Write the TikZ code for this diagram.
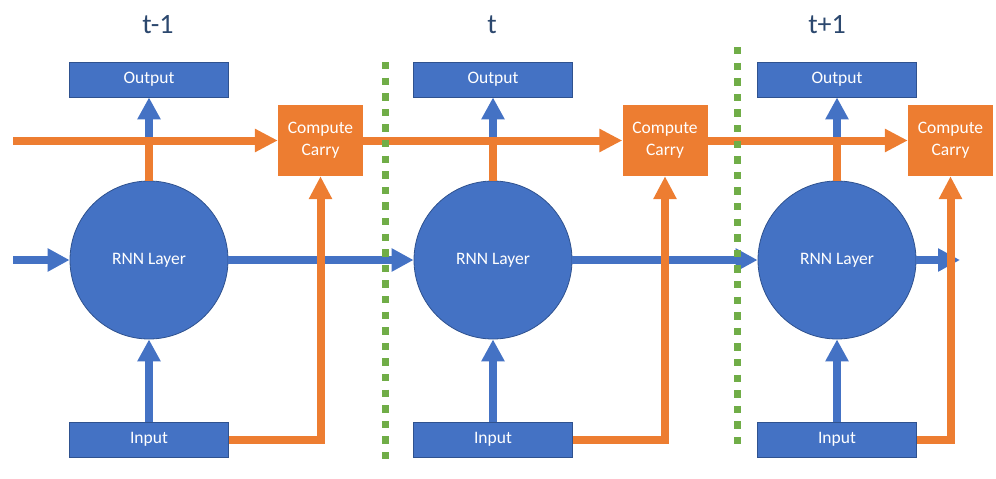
\documentclass[tikz,border=0pt]{standalone}
\usepackage{fontspec}
\setmainfont{Carlito}
\usetikzlibrary{arrows.meta}
\definecolor{cblue}{HTML}{4472C4}
\definecolor{cbluedark}{HTML}{2F528F}
\definecolor{corange}{HTML}{ED7D31}
\definecolor{cgreen}{HTML}{70AD47}
\definecolor{ctitle}{RGB}{44,72,110}
\tikzset{
  bluebox/.style={draw=cbluedark, line width=0.8pt, fill=cblue, text=white, minimum width=159pt, minimum height=35pt, inner sep=0pt, font=\fontsize{17.5}{20}\selectfont},
  rnnnode/.style={circle, draw=cbluedark, line width=0.8pt, fill=cblue, text=white, minimum size=158pt, inner sep=0pt, font=\fontsize{17.5}{20}\selectfont},
  carrybox/.style={fill=corange, text=white, minimum width=85pt, minimum height=71pt, inner sep=0pt, align=center, font=\fontsize{17.5}{22}\selectfont},
  titletext/.style={text=ctitle, font=\fontsize{28}{30}\selectfont},
  bluearrow/.style={draw=cblue, line width=8pt, -{Triangle[width=22pt,length=22pt]}},
  orangearrow/.style={draw=corange, line width=8pt, -{Triangle[width=22pt,length=23pt]}},
  orangeline/.style={draw=corange, line width=8pt},
  sep/.style={draw=cgreen, line width=7pt, dash pattern=on 7.3pt off 8.3pt},
}
\begin{document}
\begin{tikzpicture}[x=1pt, y=-1pt]
\useasboundingbox (0,0) rectangle (996,479);
% titles
\node[titletext] (t1) at (158,25) {t-1};
\node[titletext] (t2) at (492,25) {t};
\node[titletext] (t3) at (827,25) {t+1};
% nodes
\foreach \i/\x in {1/149, 2/493, 3/837}{
  \node[bluebox] (out\i) at (\x,79.5) {Output};
  \node[rnnnode] (rnn\i) at (\x,260) {RNN Layer};
  \node[bluebox] (in\i) at (\x,439.5) {Input};
  \coordinate (j\i) at (\x,140.5);
}
\node[carrybox] (carry1) at (320.5,140.5) {Compute\\Carry};
\node[carrybox] (carry2) at (665,140.5) {Compute\\Carry};
\node[carrybox] (carry3) at (950.5,140.5) {Compute\\Carry};
\coordinate (c0) at (13,140.5);
\coordinate (b0) at (13,260);
\coordinate (b3) at (960,260);
% blue connectors
\foreach \i in {1,2,3}{
  \draw[bluearrow] (j\i) -- (out\i.south);
  \draw[bluearrow] (in\i.north) -- (rnn\i.south);
}
\draw[bluearrow] (b0) -- (rnn1.west);
\draw[bluearrow] (rnn1.east) -- (rnn2.west);
\draw[bluearrow] (rnn2.east) -- (rnn3.west);
\draw[bluearrow] (rnn3.east) -- (b3);
% orange connectors
\foreach \i in {1,2,3}{
  \draw[orangeline] (rnn\i.north) -- (j\i);
  \draw[orangearrow] (in\i.east) -| (carry\i.south);
}
\draw[orangearrow] (c0) -- (carry1.west);
\draw[orangearrow] (carry1.east) -- (carry2.west);
\draw[orangearrow] (carry2.east) -- (carry3.west);
% separators
\coordinate (s1a) at (385,62);
\coordinate (s1b) at (385,459.5);
\coordinate (s2a) at (737,47);
\coordinate (s2b) at (737,444.5);
\draw[sep] (s1a) -- (s1b);
\draw[sep] (s2a) -- (s2b);
\end{tikzpicture}
\end{document}
